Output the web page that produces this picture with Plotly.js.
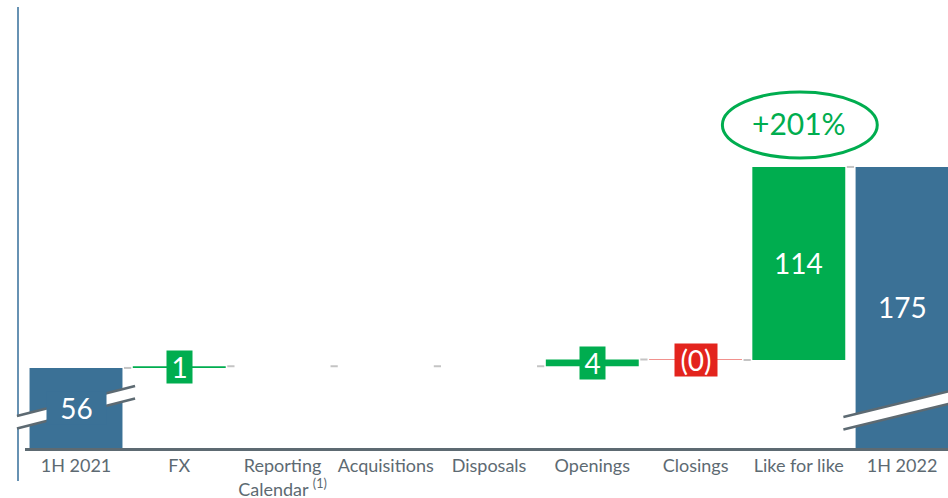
<!DOCTYPE html>
<html>
<head>
<meta charset="utf-8">
<script src="https://cdn.plot.ly/plotly-3.0.1.min.js"></script>
<style>html,body{margin:0;padding:0;background:#fff}#chart{width:948px;height:498px}</style>
</head>
<body>
<div id="chart"></div>
<script>
// ---- data ----
const categories = ["1H 2021", "FX", "Reporting<br>Calendar <sup>(1)</sup>", "Acquisitions", "Disposals", "Openings", "Closings", "Like for like", "1H 2022"];
const values = [56, 1, 0, 0, 0, 4, -0.3, 114.3, 175];
const measures = ["absolute", "relative", "relative", "relative", "relative", "relative", "relative", "relative", "total"];
const valueLabels = ["56", "1", "", "", "", "4", "(0)", "114", "175"];
const growthLabel = "+201%";

// ---- styles ----
const BLUE = "#3b7196", GREEN = "#00ad4f", RED = "#e3241d", GREY = "#5d6a72";
const FONT = "Lato, 'Open Sans', sans-serif";
const W = 948, H = 498, M = {l: 25, r: 0, t: 7, b: 50};
const xRange = [-0.494, 8.445], yRange = [8.6, 269.7];
const pw = W - M.l - M.r, ph = H - M.t - M.b;
const px2paperX = px => (px - M.l) / pw;
const py2paperY = py => (H - M.b - py) / ph;
const dx2px = x => M.l + (x - xRange[0]) / (xRange[1] - xRange[0]) * pw;

const xs = categories.map((c, i) => i);

// running totals
const before = [], after = [];
let run = 0;
values.forEach((v, i) => {
  if (measures[i] === "absolute") { before.push(yRange[0]); run = v; }
  else if (measures[i] === "total") { before.push(yRange[0]); }
  else { before.push(run); run += v; }
  after.push(run);
});

const trace = {
  type: "waterfall",
  x: xs, y: values, measure: measures,
  width: 0.9,
  connector: {visible: false},
  increasing: {marker: {color: GREEN}},
  decreasing: {marker: {color: RED}},
  totals: {marker: {color: BLUE}},
  textinfo: "none",
  hoverinfo: "skip"
};

const shapes = [];
// connector dashes at category boundaries
for (let i = 0; i < xs.length - 1; i++) {
  shapes.push({type: "line", xref: "x", yref: "y", x0: i + 0.465, x1: i + 0.535, y0: after[i], y1: after[i],
    line: {color: "#c4c4c4", width: 2}, layer: "above"});
}
// left vertical rule
shapes.push({type: "line", xref: "paper", yref: "paper", x0: px2paperX(18), x1: px2paperX(18), y0: py2paperY(481), y1: 1,
  line: {color: "#6792b3", width: 2}});

// axis-break bands
function band(xl, xr, yTopL, yTopR, thick) {
  const p = [[xl, yTopL], [xr, yTopR], [xr, yTopR + thick], [xl, yTopL + thick]].map(q => [px2paperX(q[0]), py2paperY(q[1])]);
  shapes.push({type: "path", xref: "paper", yref: "paper", layer: "above",
    path: `M${p[0][0]},${p[0][1]} L${p[1][0]},${p[1][1]} L${p[2][0]},${p[2][1]} L${p[3][0]},${p[3][1]} Z`,
    fillcolor: "#ffffff", line: {width: 0}});
  shapes.push({type: "line", xref: "paper", yref: "paper", layer: "above", x0: p[0][0], y0: p[0][1], x1: p[1][0], y1: p[1][1], line: {color: GREY, width: 2.5}});
  shapes.push({type: "line", xref: "paper", yref: "paper", layer: "above", x0: p[3][0], y0: p[3][1], x1: p[2][0], y1: p[2][1], line: {color: GREY, width: 2.5}});
}
band(dx2px(-0.572), dx2px(0.572), 416, 386, 12.5);
band(dx2px(7.432), 950, 417, 391, 12.5);

// growth ellipse around like-for-like
shapes.push({type: "circle", xref: "x", yref: "y", x0: 7 - 0.74, x1: 7 + 0.76, y0: 180.3, y1: 219.4,
  line: {color: GREEN, width: 3}, fillcolor: "rgba(0,0,0,0)", layer: "above"});

const annotations = [];
values.forEach((v, i) => {
  if (!valueLabels[i]) return;
  const mid = (before[i] + after[i]) / 2;
  const a = {x: xs[i], y: mid, xref: "x", yref: "y", text: valueLabels[i], showarrow: false,
    font: {family: FONT, size: 28, color: "#ffffff"}, borderpad: 0};
  const small = Math.abs(v) < 10;
  if (small) {
    a.bgcolor = v < 0 ? RED : GREEN;
    a.width = valueLabels[i].length > 1 ? 42 : 25;
    a.height = 32;
  } else if (measures[i] === "absolute") {
    a.bgcolor = BLUE; a.width = 59; a.height = 32;
  }
  annotations.push(a);
});
annotations.push({x: 7, y: 201, xref: "x", yref: "y", text: growthLabel, showarrow: false,
  font: {family: FONT, size: 30, color: GREEN}});

const layout = {
  width: W, height: H,
  margin: M,
  paper_bgcolor: "#ffffff", plot_bgcolor: "#ffffff",
  showlegend: false,
  font: {family: FONT},
  xaxis: {range: xRange, tickvals: xs, ticktext: categories, showgrid: false, zeroline: false,
    showline: true, linecolor: GREY, linewidth: 2.5, ticks: "",
    tickfont: {family: FONT, size: 18, color: GREY}},
  yaxis: {range: yRange, showgrid: false, zeroline: false, showline: false, showticklabels: false, ticks: ""},
  shapes: shapes,
  annotations: annotations
};

Plotly.newPlot("chart", [trace], layout, {displayModeBar: false, staticPlot: true});
</script>
</body>
</html>
